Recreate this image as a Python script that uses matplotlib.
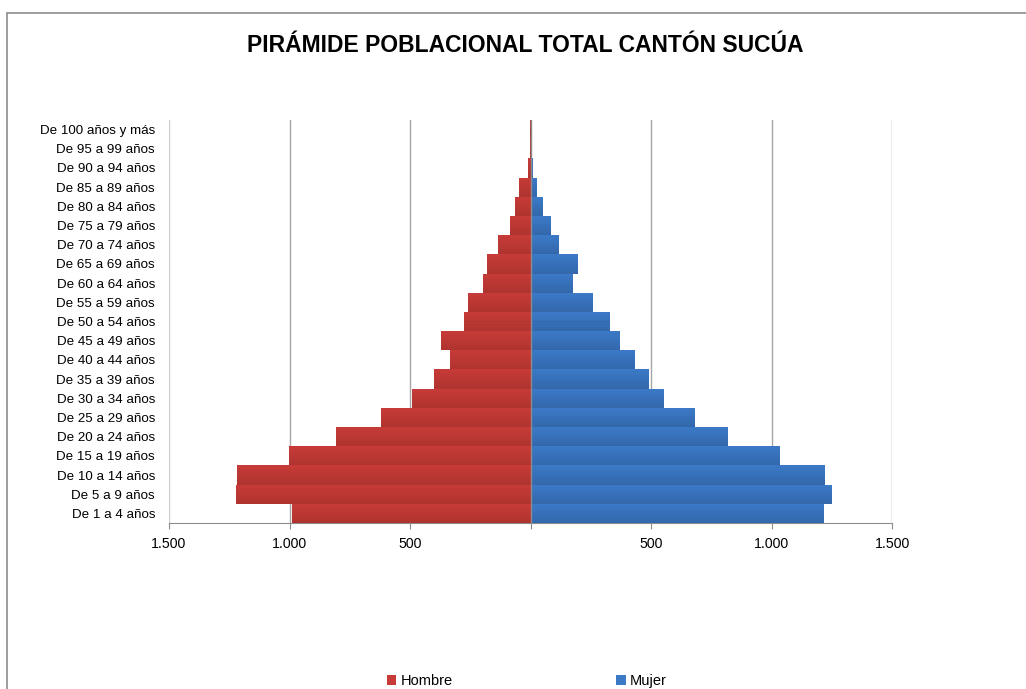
import matplotlib
matplotlib.use("Agg")
import matplotlib.pyplot as plt
from matplotlib.patches import Rectangle
from matplotlib.ticker import FuncFormatter
import numpy as np

# grupos de edad (de abajo hacia arriba)
grupos = [
    "De 1 a 4 años", "De 5 a 9 años", "De 10 a 14 años", "De 15 a 19 años",
    "De 20 a 24 años", "De 25 a 29 años", "De 30 a 34 años", "De 35 a 39 años",
    "De 40 a 44 años", "De 45 a 49 años", "De 50 a 54 años", "De 55 a 59 años",
    "De 60 a 64 años", "De 65 a 69 años", "De 70 a 74 años", "De 75 a 79 años",
    "De 80 a 84 años", "De 85 a 89 años", "De 90 a 94 años", "De 95 a 99 años",
    "De 100 años y más",
]
hombre = [988, 1221, 1219, 1004, 809, 620, 490, 400, 336, 372, 277, 261,
          198, 180, 133, 84, 66, 47, 11, 2, 3]
mujer = [1219, 1250, 1221, 1037, 820, 682, 552, 493, 434, 371, 329, 260,
         177, 198, 119, 83, 53, 25, 12, 8, 1]

ticks = [-1500, -1000, -500, 0, 500, 1000, 1500]

ROJO, ROJO_OSC = "#C83C38", "#9A2C29"
AZUL, AZUL_OSC = "#3C7AC8", "#2B5893"

plt.rcParams["font.family"] = ["Liberation Sans", "DejaVu Sans"]

fig = plt.figure(figsize=(10.26, 6.89), dpi=100)
ax = fig.add_axes([169 / 1026, 1 - 523 / 689, (892 - 169) / 1026, (523 - 120) / 689])

y = np.arange(len(grupos))
h = -np.array(hombre)
m = np.array(mujer)

ax.barh(y, h, height=1.0, color=ROJO, edgecolor="none", label="Hombre", zorder=3)
ax.barh(y, m, height=1.0, color=AZUL, edgecolor="none", label="Mujer", zorder=3)

# degradado vertical tipo Excel: franjas finas cada vez mas oscuras hacia abajo
n = 10
for k in range(n):
    y0 = 0.5 - (k + 1) / n          # borde inferior de la franja, relativo al centro
    a = 0.55 * (k + 0.5) / n
    ax.barh(y + y0 + 0.5 / n, h, height=1.0 / n, color=ROJO_OSC, alpha=a,
            edgecolor="none", zorder=3)
    ax.barh(y + y0 + 0.5 / n, m, height=1.0 / n, color=AZUL_OSC, alpha=a,
            edgecolor="none", zorder=3)

ax.set_xlim(-1500, 1500)
ax.set_ylim(-0.5, len(grupos) - 0.5)
ax.set_yticks(y)
ax.set_yticklabels(grupos, fontsize=9.6)
ax.set_xticks(ticks)
ax.xaxis.set_major_formatter(FuncFormatter(
    lambda v, p: "" if v == 0 else f"{abs(int(v)):,}".replace(",", ".")))
ax.tick_params(axis="x", labelsize=10.2, length=4, color="#8C8C8C", pad=6)
ax.tick_params(axis="y", length=0, pad=10)

for t in ticks:
    if t != 0:
        ax.axvline(t, color="#A6A6A6" if t != -1500 else "#CFCFCF", lw=1, zorder=1)
ax.axvline(0, color="#8C8C8C", lw=1, zorder=4)

for s in ["left", "right", "top"]:
    ax.spines[s].set_visible(False)
ax.spines["bottom"].set_color("#8C8C8C")

fig.text(525 / 1026, 1 - 45 / 689, "PIRÁMIDE POBLACIONAL TOTAL CANTÓN SUCÚA",
         ha="center", va="center", fontsize=16.5, fontweight="bold")

# marco del grafico
fig.patches.append(Rectangle((7 / 1026, -0.05), 1.2, 1 - 13 / 689 + 0.05,
                             transform=fig.transFigure, fill=False,
                             edgecolor="#8C8C8C", lw=1.2))

fig.legend(loc="center", bbox_to_anchor=(527 / 1026, 1 - 681 / 689), ncol=2,
           frameon=False, fontsize=10.5, handlelength=0.65, handleheight=0.65,
           handletextpad=0.3, columnspacing=11.2)

fig.savefig("out.png", dpi=100)
